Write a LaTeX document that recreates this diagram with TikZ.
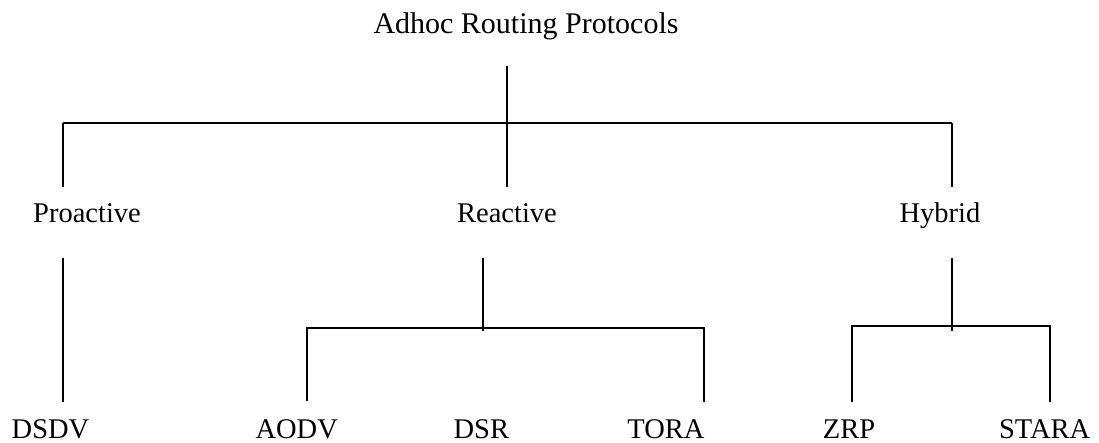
\documentclass[tikz,border=0pt]{standalone}
\usepackage{fontspec}
\setmainfont{Liberation Serif}
\tikzset{
  lbl/.style={anchor=base, inner sep=0pt, font=\fontsize{28.5}{34}\selectfont},
  ttl/.style={anchor=base, inner sep=0pt, font=\fontsize{30}{36}\selectfont},
  thin/.style={line width=1.3pt, line cap=butt},
  thick/.style={line width=2pt, line cap=butt}
}
\begin{document}
\begin{tikzpicture}[x=1pt,y=-1pt]
\useasboundingbox (0,0) rectangle (1099,443);
% labels
\node[ttl] (root) at (526,34) {Adhoc Routing Protocols};
\node[lbl] (pro) at (87,223) {Proactive};
\node[lbl] (rea) at (507,223) {Reactive};
\node[lbl] (hyb) at (940,223) {Hybrid};
\node[lbl] (dsdv) at (50.5,438) {DSDV};
\node[lbl] (aodv) at (296.7,438) {AODV};
\node[lbl] (dsr) at (481.3,438) {DSR};
\node[lbl] (tora) at (666,438) {TORA};
\node[lbl] (zrp) at (849,438) {ZRP};
\node[lbl] (stara) at (1044.7,438) {STARA};
% junction coordinates
\coordinate (rt) at (507,66);
\coordinate (rj) at (507,123);
\coordinate (rb) at (507,187);
\coordinate (lj) at (63,123);
\coordinate (lb) at (63,187);
\coordinate (hj) at (952,123);
\coordinate (hb) at (952,187);
\coordinate (pt) at (63,258);
\coordinate (pb) at (63,402);
\coordinate (reat) at (483,258);
\coordinate (reab) at (483,331);
\coordinate (ral) at (307,328);
\coordinate (rar) at (704,328);
\coordinate (ralb) at (307,401);
\coordinate (rarb) at (704,402);
\coordinate (hyt) at (952,258);
\coordinate (hyb2) at (952,331);
\coordinate (hl) at (852,326);
\coordinate (hr) at (1050,326);
\coordinate (hlb) at (852,402);
\coordinate (hrb) at (1050,402);
% connectors
\draw[thin] (rt) -- (rb);
\draw[thick] (lj) -- (hj);
\draw[thin] (lj) -- (lb);
\draw[thin] (hj) -- (hb);
\draw[thin] (pt) -- (pb);
\draw[thin] (reat) -- (reab);
\draw[thin] (ralb) -- (ral) -- (rar) -- (rarb);
\draw[thin] (hyt) -- (hyb2);
\draw[thin] (hlb) -- (hl) -- (hr) -- (hrb);
\end{tikzpicture}
\end{document}
